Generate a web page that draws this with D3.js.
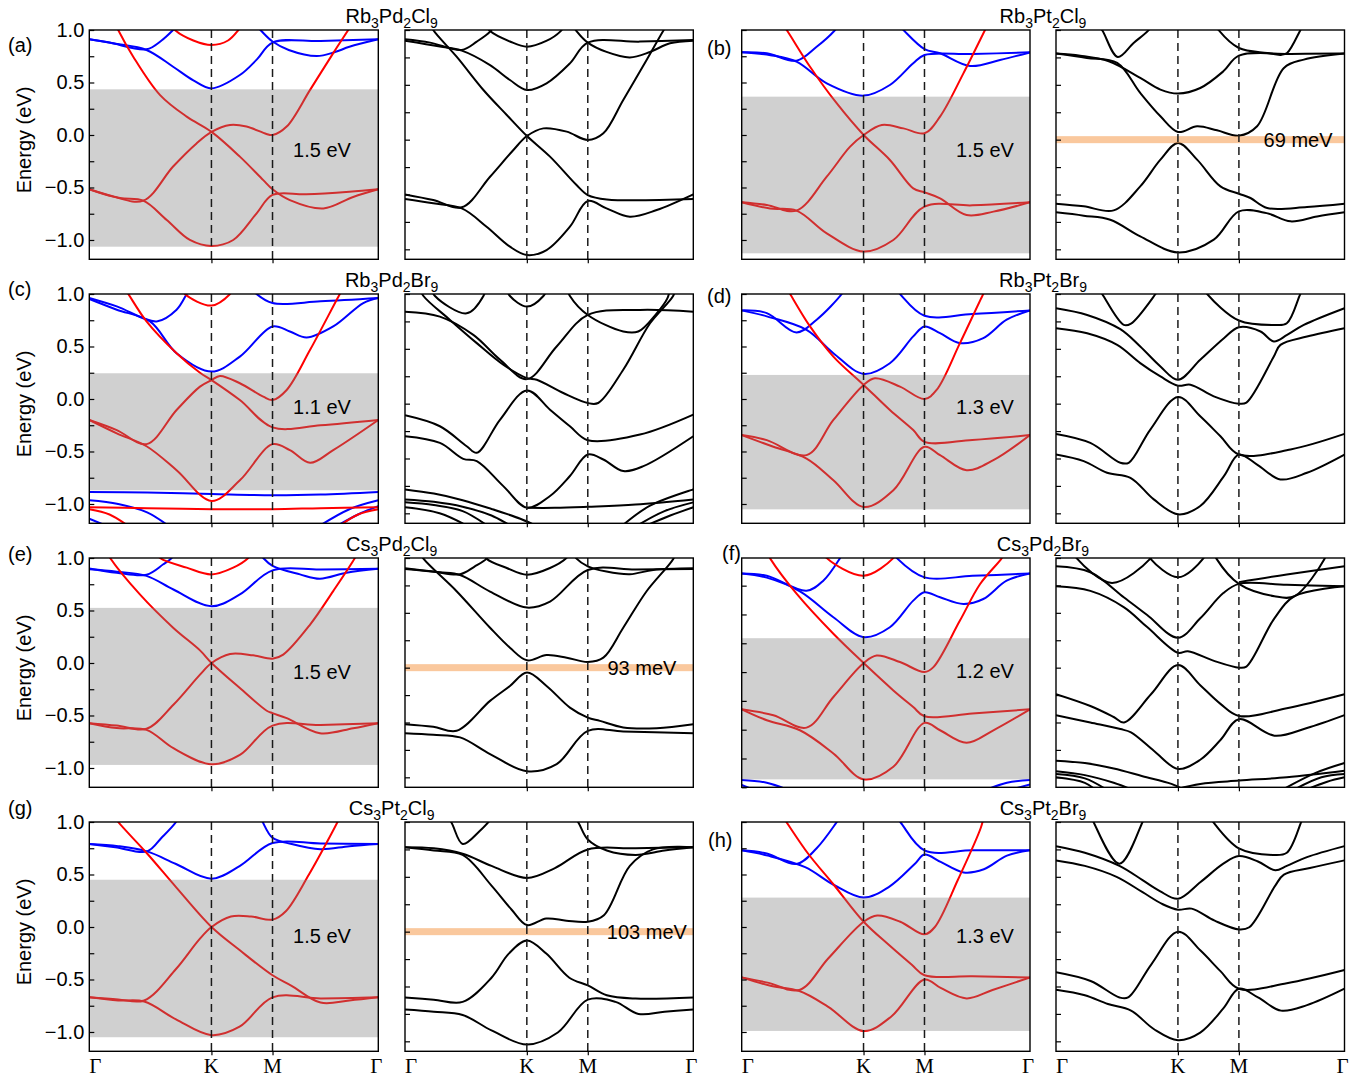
<!DOCTYPE html>
<html><head><meta charset="utf-8">
<script src="https://cdn.jsdelivr.net/npm/d3@7"></script>
<style>body{margin:0;background:#fff}svg{display:block}</style>
</head><body>
<svg id="fig" width="1370" height="1078"></svg>
<script>
// ---- path through the Brillouin zone: Γ–K–M–Γ (fractional distance) ----
const kNodes = [0, 0.4226, 0.634, 1];
const kLabels = ["Γ", "K", "M", "Γ"];
const energyTicks = [-1.0, -0.5, 0.0, 0.5, 1.0];

const compounds = ["Rb3Pd2Cl9", "Rb3Pt2Cl9", "Rb3Pd2Br9", "Rb3Pt2Br9",
                   "Cs3Pd2Cl9", "Cs3Pd2Br9", "Cs3Pt2Cl9", "Cs3Pt2Br9"];
const panelLetters = ["(a)", "(b)", "(c)", "(d)", "(e)", "(f)", "(g)", "(h)"];
// shaded energy window [bottom, top] (eV) and its width label
const gapWindows = [[-1.064, 0.435], [-1.127, 0.365], [-0.869, 0.245], [-1.051, 0.229],
                    [-0.971, 0.525], [-0.931, 0.294], [-1.05, 0.45], [-0.99, 0.28]];
const gapTexts = ["1.5 eV", "1.5 eV", "1.1 eV", "1.3 eV", "1.5 eV", "1.2 eV", "1.5 eV", "1.3 eV"];
// spin–orbit gap marked on the black band structures
const socGapTexts = ["", "69 meV", "", "", "93 meV", "", "103 meV", ""];
const socGapLevel = [0, 0, 0, 0, 0, 0, 0, 0];

// ---- bands: each band is a list of [k, E(eV)] ----
// Rb3Pd2Cl9
const rbPdCl_blue = [
  [[0,.911],[.07,.88],[.198,.816],[.25,.9],[.29,1.0],[.31,1.06]],
  [[0,.911],[.09,.87],[.198,.81],[.29,.65],[.36,.52],[.423,.444],[.521,.571],[.58,.72],[.634,.88],[.8,.895],[1,.911]],
  [[.57,1.06],[.592,1.0],[.634,.89],[.69,.81],[.787,.752],[.85,.79],[.9,.84],[1,.911]]
];
const rbPdCl_red = [
  [[.28,1.06],[.296,1.0],[.36,.9],[.423,.857],[.48,.9],[.516,1.0],[.53,1.06]],
  [[.09,1.06],[.1,1.0],[.152,.746],[.245,.38],[.337,.175],[.423,.03],[.521,-.206],[.602,-.43],[.634,-.517],[.694,-.62],[.81,-.70],[.913,-.59],[1,-.517]],
  [[0,-.517],[.083,-.587],[.187,-.625],[.29,-.30],[.371,-.08],[.423,.03],[.487,.095],[.544,.08],[.613,.01],[.634,0],[.683,.08],[.764,.43],[.844,.78],[.896,1.0],[.91,1.06]],
  [[0,-.517],[.106,-.60],[.187,-.625],[.268,-.81],[.348,-1.0],[.423,-1.057],[.498,-1.0],[.579,-.746],[.634,-.571],[.75,-.565],[.9,-.54],[1,-.517]]
];
const rbPdCl_soc = [
  [[0,.915],[.087,.885],[.197,.818],[.249,.894],[.295,.985],[.31,1.05]],
  [[0,.903],[.121,.85],[.197,.812],[.295,.68],[.364,.544],[.423,.453],[.491,.514],[.572,.696],[.634,.885],[.815,.894],[1,.909]],
  [[.58,1.05],[.595,.99],[.634,.885],[.699,.80],[.78,.75],[.85,.80],[.919,.879],[1,.903]],
  [[.28,1.05],[.295,.99],[.364,.895],[.423,.848],[.49,.90],[.54,.99],[.555,1.05]],
  [[.09,1.05],[.098,1.0],[.179,.757],[.272,.453],[.353,.225],[.423,.033],[.503,-.155],[.595,-.414],[.634,-.505],[.7,-.545],[1,-.541]],
  [[0,-.499],[.098,-.55],[.197,-.617],[.295,-.338],[.376,-.094],[.423,.033],[.48,.103],[.561,.073],[.634,-.003],[.688,.058],[.757,.362],[.838,.727],[.896,.994],[.91,1.05]],
  [[0,-.541],[.098,-.58],[.197,-.627],[.283,-.794],[.364,-.976],[.423,-1.052],[.491,-1.007],[.572,-.794],[.634,-.56],[.699,-.627],[.78,-.703],[.873,-.642],[1,-.499]]
];
// Rb3Pt2Cl9
const rbPtCl_blue = [
  [[0,.787],[.087,.778],[.19,.708],[.26,.84],[.324,1.0],[.34,1.06]],
  [[0,.787],[.1,.76],[.19,.698],[.295,.492],[.423,.375],[.514,.476],[.595,.683],[.634,.762],[.8,.771],[1,.787]],
  [[.54,1.06],[.561,1.0],[.634,.819],[.688,.778],[.792,.657],[.896,.714],[1,.787]]
];
const rbPtCl_red = [
  [[.14,1.06],[.156,1.0],[.237,.65],[.33,.30],[.423,0],[.514,-.238],[.595,-.508],[.634,-.546],[.688,-.603],[.78,-.762],[.873,-.73],[1,-.641]],
  [[0,-.641],[.087,-.667],[.19,-.72],[.295,-.397],[.376,-.111],[.423,0],[.486,.095],[.561,.063],[.634,.016],[.688,.175],[.769,.587],[.844,1.0],[.855,1.06]],
  [[0,-.641],[.098,-.70],[.19,-.72],[.295,-.937],[.423,-1.11],[.526,-1.0],[.634,-.683],[.8,-.67],[1,-.641]]
];
const rbPtCl_soc = [
  [[.14,1.06],[.16,.998],[.214,.754],[.269,.882],[.321,.998],[.335,1.06]],
  [[0,.785],[.084,.766],[.183,.715],[.292,.563],[.362,.456],[.423,.42],[.5,.471],[.58,.623],[.634,.766],[.813,.782],[1,.785]],
  [[0,.785],[.107,.745],[.212,.70],[.292,.426],[.362,.213],[.423,.07],[.489,.122],[.558,.085],[.634,.036],[.697,.122],[.79,.654],[.859,.73],[1,.785]],
  [[.55,1.06],[.564,.998],[.634,.836],[.732,.79],[.78,.773],[.801,.79],[.847,.998],[.86,1.06]],
  [[0,-.584],[.096,-.608],[.2,-.645],[.292,-.426],[.362,-.182],[.423,-.03],[.489,-.182],[.57,-.426],[.634,-.493],[.674,-.532],[.732,-.623],[.87,-.614],[1,-.584]],
  [[0,-.663],[.096,-.693],[.188,-.73],[.292,-.882],[.423,-1.028],[.547,-.912],[.634,-.654],[.73,-.67],[.813,-.745],[.905,-.70],[1,-.663]]
];
// Rb3Pd2Br9
const rbPdBr_blue = [
  [[0,.962],[.095,.882],[.233,.739],[.302,.85],[.337,1.0],[.35,1.06]],
  [[0,.952],[.095,.85],[.21,.739],[.302,.436],[.423,.261],[.521,.404],[.634,.691],[.694,.643],[.752,.586],[.844,.691],[.948,.914],[1,.962]],
  [[.56,1.06],[.579,1.0],[.634,.914],[.8,.93],[1,.962]],
  [[0,-.885],[.2,-.89],[.423,-.905],[.634,-.917],[.8,-.91],[1,-.885]],
  [[0,-.965],[.1,-1.0],[.2,-1.08],[.28,-1.22]],
  [[0,-1.14],[.07,-1.22]],
  [[.33,-1.25],[.423,-1.195],[.52,-1.25]],
  [[.79,-1.22],[.9,-1.05],[1,-.965]],
  [[.85,-1.22],[.93,-1.1],[1,-1.02]]
];
const rbPdBr_red = [
  [[.32,1.06],[.331,1.0],[.423,.89],[.487,1.0],[.5,1.06]],
  [[.12,1.06],[.135,1.0],[.198,.739],[.302,.436],[.383,.25],[.423,.18],[.521,-.01],[.634,-.27],[.8,-.25],[1,-.20]],
  [[0,-.20],[.095,-.296],[.198,-.43],[.302,-.105],[.383,.118],[.423,.18],[.452,.22],[.521,.15],[.602,.022],[.634,-.01],[.683,.086],[.764,.468],[.867,1.0],[.88,1.06]],
  [[0,-.20],[.095,-.327],[.198,-.45],[.302,-.678],[.423,-.971],[.521,-.774],[.634,-.43],[.694,-.487],[.764,-.608],[.844,-.487],[1,-.20]],
  [[0,-1.03],[.2,-1.04],[.423,-1.05],[.634,-1.05],[.8,-1.04],[1,-1.03]],
  [[0,-1.05],[.07,-1.1],[.14,-1.22]],
  [[.86,-1.22],[.93,-1.1],[1,-1.05]]
];
const rbPdBr_soc = [
  [[0,.839],[.121,.794],[.237,.627],[.33,.40],[.423,.224],[.526,.521],[.634,.809],[.815,.855],[1,.839]],
  [[.05,1.06],[.064,.982],[.156,.764],[.249,.552],[.341,.355],[.423,.233],[.457,.218],[.549,.097],[.634,.006],[.67,.006],[.757,.309],[.85,.733],[.93,.982],[.94,1.06]],
  [[.09,1.06],[.104,.982],[.214,.824],[.272,.982],[.28,1.06]],
  [[.35,1.06],[.364,.982],[.423,.885],[.48,.982],[.495,1.06]],
  [[.56,1.06],[.572,.982],[.634,.809],[.757,.658],[.809,.658],[.873,.824],[.91,.96],[.92,1.06]],
  [[0,-.106],[.121,-.206],[.214,-.388],[.249,-.448],[.33,-.145],[.423,.121],[.503,-.055],[.572,-.206],[.634,-.333],[.815,-.282],[1,-.10]],
  [[0,-.297],[.121,-.358],[.202,-.503],[.249,-.524],[.341,-.752],[.423,-.948],[.503,-.842],[.572,-.66],[.634,-.464],[.688,-.509],[.757,-.615],[.827,-.57],[1,-.297]],
  [[0,-.782],[.1,-.82],[.2,-.88],[.3,-.96],[.4,-1.05],[.46,-1.12]],
  [[0,-.873],[.1,-.895],[.2,-.94],[.3,-1.02],[.37,-1.12]],
  [[0,-.90],[.1,-.925],[.2,-.98],[.29,-1.12]],
  [[0,-.945],[.12,-1.0],[.22,-1.12]],
  [[.423,-.95],[.52,-.95],[.634,-.94],[.8,-.92],[1,-.873]],
  [[.75,-1.12],[.85,-.93],[1,-.782]],
  [[.8,-1.12],[.9,-.98],[1,-.90]],
  [[.83,-1.12],[.92,-1.02],[1,-.945]]
];
// Rb3Pt2Br9
const rbPtBr_blue = [
  [[0,.844],[.087,.818],[.19,.634],[.26,.755],[.347,1.0],[.36,1.06]],
  [[0,.844],[.087,.787],[.225,.659],[.318,.436],[.423,.239],[.514,.341],[.595,.596],[.634,.691],[.688,.627],[.757,.532],[.838,.58],[.919,.755],[1,.844]],
  [[.53,1.06],[.549,1.0],[.634,.793],[.8,.81],[1,.844]]
];
const rbPtBr_red = [
  [[.155,1.06],[.168,1.0],[.237,.691],[.318,.404],[.423,.134],[.514,-.105],[.595,-.296],[.634,-.408],[.8,-.39],[1,-.344]],
  [[0,-.344],[.087,-.392],[.225,-.535],[.318,-.2],[.423,.134],[.462,.197],[.549,.118],[.634,0],[.676,.086],[.757,.532],[.838,1.0],[.85,1.06]],
  [[0,-.344],[.11,-.455],[.225,-.567],[.318,-.774],[.423,-1.029],[.526,-.869],[.634,-.455],[.688,-.535],[.78,-.678],[.873,-.583],[1,-.344]]
];
const rbPtBr_soc = [
  [[.145,1.06],[.16,1.0],[.235,.718],[.26,.73],[.345,1.0],[.36,1.06]],
  [[0,.87],[.108,.809],[.223,.679],[.292,.521],[.362,.339],[.423,.218],[.5,.40],[.582,.597],[.634,.697],[.709,.658],[.755,.567],[.801,.627],[.859,.718],[1,.87]],
  [[0,.688],[.108,.642],[.212,.536],[.292,.37],[.362,.248],[.423,.164],[.466,.173],[.547,.067],[.634,0],[.66,.01],[.755,.43],[.778,.536],[.87,.612],[1,.688]],
  [[.51,1.06],[.524,1.0],[.634,.758],[.755,.718],[.8,.733],[.847,1.0],[.86,1.06]],
  [[0,-.276],[.119,-.358],[.223,-.539],[.252,-.539],[.327,-.236],[.423,.061],[.5,-.115],[.57,-.297],[.634,-.464],[.813,-.418],[1,-.276]],
  [[0,-.464],[.096,-.524],[.177,-.63],[.258,-.676],[.339,-.873],[.423,-1.009],[.5,-.933],[.582,-.661],[.634,-.464],[.697,-.555],[.778,-.691],[.87,-.63],[1,-.464]]
];
// Cs3Pd2Cl9
const csPdCl_blue = [
  [[0,.901],[.095,.86],[.198,.841],[.256,.94],[.285,1.0],[.3,1.06]],
  [[0,.892],[.095,.87],[.198,.83],[.291,.70],[.423,.541],[.521,.653],[.634,.882],[.8,.89],[1,.898]],
  [[.585,1.06],[.602,1.0],[.634,.924],[.729,.844],[.798,.803],[.89,.86],[1,.898]]
];
const csPdCl_red = [
  [[.23,1.06],[.245,1.0],[.337,.908],[.423,.844],[.498,.908],[.55,1.0],[.565,1.06]],
  [[.06,1.06],[.072,1.0],[.175,.653],[.291,.334],[.383,.12],[.423,0],[.521,-.239],[.614,-.455],[.634,-.478],[.683,-.525],[.798,-.669],[.913,-.621],[1,-.573]],
  [[0,-.573],[.095,-.596],[.198,-.627],[.291,-.398],[.383,-.111],[.423,0],[.487,.086],[.567,.073],[.634,.041],[.671,.08],[.764,.366],[.844,.685],[.919,1.0],[.93,1.06]],
  [[0,-.573],[.095,-.62],[.198,-.637],[.291,-.812],[.423,-.965],[.521,-.876],[.634,-.596],[.8,-.59],[1,-.573]]
];
const csPdCl_soc = [
  [[0,.906],[.098,.876],[.191,.852],[.24,.92],[.283,.994],[.295,1.06]],
  [[0,.90],[.121,.87],[.191,.845],[.295,.694],[.423,.548],[.503,.603],[.634,.891],[.8,.896],[1,.90]],
  [[.58,1.06],[.595,.994],[.634,.924],[.699,.876],[.78,.852],[.861,.891],[1,.906]],
  [[.27,1.06],[.283,.994],[.353,.909],[.423,.848],[.503,.909],[.56,1.0],[.575,1.06]],
  [[.05,1.06],[.064,.994],[.179,.697],[.295,.364],[.364,.182],[.423,.067],[.491,.115],[.561,.091],[.634,.052],[.688,.091],[.757,.364],[.838,.697],[.931,.994],[.94,1.06]],
  [[0,-.515],[.098,-.539],[.179,-.576],[.295,-.303],[.364,-.167],[.423,-.045],[.491,-.167],[.572,-.364],[.634,-.455],[.676,-.485],[.757,-.545],[.873,-.552],[1,-.515]],
  [[0,-.597],[.098,-.612],[.191,-.636],[.295,-.788],[.423,-.945],[.526,-.879],[.634,-.576],[.757,-.582],[1,-.597]]
];
// Cs3Pd2Br9
const csPdBr_blue = [
  [[0,.856],[.087,.836],[.225,.706],[.283,.793],[.341,.989],[.355,1.05]],
  [[0,.856],[.087,.82],[.202,.70],[.318,.476],[.423,.303],[.514,.389],[.595,.62],[.634,.692],[.688,.649],[.769,.591],[.838,.634],[.919,.793],[1,.856]],
  [[.52,1.05],[.538,.989],[.634,.822],[.8,.835],[1,.856]],
  [[0,-.937],[.087,-.96],[.168,-1.03]],
  [[0,-.98],[.05,-1.03]],
  [[.84,-1.03],[.92,-.96],[1,-.937]],
  [[.92,-1.03],[1,-.975]]
];
const csPdBr_red = [
  [[.28,1.05],[.295,.989],[.423,.836],[.526,.989],[.54,1.05]],
  [[.085,1.05],[.098,.989],[.191,.678],[.318,.332],[.423,.078],[.526,-.159],[.595,-.303],[.634,-.384],[.8,-.36],[1,-.323]],
  [[0,-.323],[.11,-.375],[.225,-.482],[.318,-.216],[.423,.078],[.468,.144],[.549,.087],[.634,0],[.665,.043],[.757,.447],[.827,.764],[.902,.989],[.915,1.05]],
  [[0,-.323],[.087,-.418],[.202,-.505],[.318,-.706],[.423,-.931],[.526,-.822],[.634,-.441],[.688,-.505],[.78,-.614],[.873,-.505],[1,-.323]]
];
const csPdBr_soc = [
  [[.06,1.06],[.073,.994],[.194,.773],[.327,.994],[.34,1.06]],
  [[0,.924],[.119,.87],[.236,.64],[.316,.48],[.423,.273],[.5,.45],[.58,.68],[.634,.764],[.8,.755],[1,.742]],
  [[0,.742],[.119,.70],[.236,.55],[.316,.37],[.423,.136],[.457,.15],[.55,.06],[.634,0],[.66,.01],[.757,.45],[.827,.652],[1,.742]],
  [[.315,1.06],[.327,.994],[.423,.824],[.51,.994],[.52,1.06]],
  [[.545,1.06],[.556,.994],[.634,.764],[.757,.652],[.827,.652],[.931,.994],[.94,1.06]],
  [[.634,.78],[.8,.85],[1,.924]],
  [[0,-.242],[.119,-.35],[.2,-.45],[.236,-.5],[.33,-.24],[.423,.024],[.5,-.16],[.57,-.33],[.634,-.44],[.8,-.37],[1,-.242]],
  [[0,-.433],[.119,-.50],[.223,-.56],[.26,-.59],[.34,-.76],[.423,-.924],[.5,-.84],[.57,-.66],[.634,-.47],[.757,-.62],[.87,-.55],[1,-.433]],
  [[0,-.848],[.1,-.87],[.2,-.92],[.3,-.99],[.4,-1.06],[.45,-1.12]],
  [[0,-.945],[.1,-.98],[.2,-1.05],[.27,-1.12]],
  [[0,-.97],[.1,-1.01],[.18,-1.12]],
  [[0,-1.0],[.1,-1.05],[.14,-1.12]],
  [[.4,-1.12],[.5,-1.06],[.634,-1.03],[.8,-1.0],[1,-.94]],
  [[.78,-1.12],[.9,-.96],[1,-.87]],
  [[.82,-1.12],[.92,-1.0],[1,-.97]],
  [[.86,-1.12],[.94,-1.04],[1,-1.0]]
];
// Cs3Pt2Cl9
const csPtCl_blue = [
  [[0,.79],[.09,.76],[.2,.72],[.25,.85],[.3,1.0],[.31,1.06]],
  [[0,.79],[.1,.77],[.2,.72],[.3,.60],[.423,.46],[.52,.58],[.634,.80],[.8,.795],[1,.79]],
  [[.59,1.06],[.6,1.0],[.634,.85],[.7,.79],[.8,.74],[.9,.77],[1,.79]]
];
const csPtCl_red = [
  [[.085,1.06],[.1,1.0],[.2,.70],[.3,.38],[.423,0],[.52,-.22],[.634,-.46],[.7,-.56],[.8,-.72],[.9,-.70],[1,-.67]],
  [[0,-.67],[.1,-.69],[.19,-.70],[.3,-.40],[.38,-.12],[.423,0],[.49,.10],[.56,.10],[.634,.07],[.68,.15],[.76,.50],[.84,.9],[.87,1.06]],
  [[0,-.67],[.1,-.70],[.19,-.71],[.3,-.88],[.423,-1.03],[.52,-.95],[.634,-.67],[.8,-.68],[1,-.67]]
];
const csPtCl_soc = [
  [[.14,1.06],[.16,1.0],[.2,.80],[.26,.92],[.31,1.06]],
  [[0,.77],[.1,.76],[.2,.71],[.3,.60],[.423,.49],[.52,.58],[.634,.75],[.8,.76],[1,.77]],
  [[.58,1.06],[.6,1.0],[.634,.84],[.7,.74],[.8,.70],[.9,.74],[1,.77]],
  [[0,.77],[.1,.74],[.2,.70],[.3,.42],[.37,.2],[.423,.06],[.49,.12],[.56,.10],[.634,.09],[.69,.15],[.78,.6],[.86,.75],[1,.77]],
  [[0,-.60],[.1,-.62],[.2,-.64],[.3,-.42],[.36,-.2],[.423,-.08],[.49,-.2],[.57,-.42],[.634,-.49],[.7,-.58],[.8,-.61],[1,-.60]],
  [[0,-.71],[.1,-.73],[.2,-.76],[.3,-.90],[.423,-1.03],[.53,-.92],[.634,-.62],[.73,-.64],[.81,-.75],[.9,-.73],[1,-.71]]
];
// Cs3Pt2Br9
const csPtBr_blue = [
  [[0,.73],[.087,.70],[.19,.60],[.26,.75],[.33,1.0],[.345,1.06]],
  [[0,.73],[.09,.68],[.22,.57],[.32,.40],[.423,.28],[.51,.38],[.6,.60],[.634,.69],[.69,.62],[.77,.52],[.84,.55],[.92,.68],[1,.73]],
  [[.53,1.06],[.55,1.0],[.634,.73],[.8,.73],[1,.73]]
];
const csPtBr_red = [
  [[.14,1.06],[.155,1.0],[.23,.70],[.32,.40],[.423,.05],[.51,-.17],[.59,-.36],[.634,-.46],[.8,-.47],[1,-.48]],
  [[0,-.48],[.09,-.53],[.2,-.60],[.3,-.30],[.423,.05],[.47,.11],[.55,.05],[.634,-.07],[.67,0],[.75,.45],[.83,.95],[.84,1.06]],
  [[0,-.48],[.1,-.56],[.2,-.61],[.3,-.76],[.423,-.99],[.52,-.85],[.634,-.50],[.69,-.58],[.78,-.68],[.87,-.60],[1,-.48]]
];
const csPtBr_soc = [
  [[.12,1.06],[.13,1.0],[.22,.62],[.3,1.0],[.31,1.06]],
  [[0,.78],[.1,.72],[.22,.60],[.3,.47],[.36,.37],[.423,.30],[.5,.45],[.58,.62],[.634,.69],[.7,.64],[.76,.56],[.8,.6],[.87,.68],[1,.78]],
  [[0,.65],[.1,.60],[.21,.50],[.3,.36],[.37,.25],[.423,.20],[.47,.21],[.55,.10],[.634,.02],[.67,.04],[.76,.42],[.79,.52],[.88,.58],[1,.65]],
  [[.53,1.06],[.545,1.0],[.634,.76],[.75,.70],[.8,.72],[.85,1.0],[.86,1.06]],
  [[0,-.37],[.12,-.45],[.22,-.60],[.25,-.60],[.33,-.30],[.423,0],[.5,-.17],[.57,-.36],[.634,-.52],[.8,-.47],[1,-.35]],
  [[0,-.53],[.1,-.58],[.18,-.66],[.26,-.72],[.34,-.89],[.423,-.99],[.5,-.92],[.58,-.70],[.634,-.52],[.7,-.60],[.78,-.72],[.87,-.67],[1,-.52]]
];

const blueBands = [rbPdCl_blue, rbPtCl_blue, rbPdBr_blue, rbPtBr_blue, csPdCl_blue, csPdBr_blue, csPtCl_blue, csPtBr_blue];
const redBands  = [rbPdCl_red, rbPtCl_red, rbPdBr_red, rbPtBr_red, csPdCl_red, csPdBr_red, csPtCl_red, csPtBr_red];
const socBands  = [rbPdCl_soc, rbPtCl_soc, rbPdBr_soc, rbPtBr_soc, csPdCl_soc, csPdBr_soc, csPtCl_soc, csPtBr_soc];

// ---- layout ----
const W = 1370, H = 1078;
const colFrames = [[[89.3, 378.3], [405, 693.3]], [[741.7, 1030], [1056, 1344.5]]];
const rowTop = 30, rowBottom = 259.3, rowStep = 264;
const colorDomain = [-1.184, 1.0], colorDomainAlt = [-1.0, 0.99], socDomain = [-1.091, 1.0];
const gapLabelAt = [[.805,-.14],[.844,-.143],[.805,-.08],[.844,-.08],[.805,-.086],[.844,.005],[.805,-.09],[.844,-.09]];
const socLabelK = [0, .839, 0, 0, .822, 0, .839, 0];
const letterPos = [[8,52],[707,55],[8,296],[707,303],[8,561],[722,560],[8,815],[708,847]];
const SANS = "'Liberation Sans', Arial, Helvetica, sans-serif";
const SERIF = "'Liberation Serif', 'Times New Roman', serif";

const svg = d3.select("#fig");
const defs = svg.append("defs");
let clipId = 0;

function formula(sel, str) {
  // chemical formula with subscripted digits
  const parts = str.match(/\d+|\D+/g);
  let sub = false;
  parts.forEach(p => {
    const isNum = /\d/.test(p);
    const t = sel.append("tspan").text(p);
    if (isNum) { t.attr("font-size", 14).attr("dy", 5); sub = true; }
    else if (sub) { t.attr("dy", -5); sub = false; }
  });
}

function drawPanel(opts) {
  const {x, y, bands, overlay, labelRow} = opts;
  const g = svg.append("g");
  const [x0, x1] = x.range(), [y1, y0] = y.range();
  const id = "clip" + (clipId++);
  defs.append("clipPath").attr("id", id).append("rect")
    .attr("x", x0).attr("y", y0).attr("width", x1 - x0).attr("height", y1 - y0);
  const plot = g.append("g").attr("clip-path", `url(#${id})`);
  const line = d3.line().x(d => x(d[0])).y(d => y(d[1])).curve(d3.curveCatmullRom.alpha(0.5));

  bands.forEach(set => {
    plot.append("g").selectAll("path").data(set.data).join("path")
      .attr("d", line).attr("fill", "none").attr("stroke", set.color)
      .attr("stroke-width", 2).attr("stroke-linejoin", "round");
  });
  if (overlay) overlay(plot, x, y);

  // K and M guide lines
  plot.selectAll("line.kv").data(kNodes.slice(1, 3)).join("line")
    .attr("x1", d => x(d)).attr("x2", d => x(d)).attr("y1", y0).attr("y2", y1)
    .attr("stroke", "#1a1a1a").attr("stroke-width", 1.5).attr("stroke-dasharray", "8,5");

  // energy axis: inward ticks every 0.25 eV
  const dom = y.domain();
  const tv = d3.range(-1.0, 1.001, 0.25).filter(v => v >= dom[0] - 1e-6 && v <= dom[1] + 1e-6);
  const ax = d3.axisLeft(y).tickValues(tv).tickSizeInner(-5).tickSizeOuter(0).tickPadding(5)
    .tickFormat(v => (opts.labels && Math.abs(Math.round(v * 2) - v * 2) < 1e-6) ? d3.format(".1f")(v) : "");
  const axG = g.append("g").attr("transform", `translate(${x0},0)`).call(ax);
  axG.select(".domain").remove();
  axG.selectAll("line").attr("stroke", "#000").attr("stroke-width", 1.2);
  axG.selectAll("text").attr("font-family", SANS).attr("font-size", 20).attr("fill", "#000");

  // k axis: outward ticks at K and M
  const bx = d3.axisBottom(x).tickValues(kNodes.slice(1, 3)).tickSizeInner(4).tickSizeOuter(0).tickFormat("");
  const bxG = g.append("g").attr("transform", `translate(0,${y1})`).call(bx);
  bxG.select(".domain").remove();
  bxG.selectAll("line").attr("stroke", "#000").attr("stroke-width", 1.2);

  g.append("rect").attr("x", x0).attr("y", y0).attr("width", x1 - x0).attr("height", y1 - y0)
    .attr("fill", "none").attr("stroke", "#000").attr("stroke-width", 1.4);

  if (labelRow) {
    g.selectAll("text.kl").data(kNodes).join("text")
      .attr("x", (d, i) => x(d) + (i === 0 ? 6 : i === 3 ? -2 : 0))
      .attr("y", y1 + 22).attr("text-anchor", "middle")
      .attr("font-family", SERIF).attr("font-size", 21).attr("fill", "#000")
      .text((d, i) => kLabels[i]);
  }
  return g;
}

compounds.forEach((name, i) => {
  const r = Math.floor(i / 2), c = i % 2;
  const top = rowTop + r * rowStep, bottom = rowBottom + r * rowStep;
  const [cRange, sRange] = colFrames[c];
  const last = r === 3;

  // spin-polarized bands (red / blue) with the shaded window
  const xC = d3.scaleLinear().domain([0, 1]).range(cRange);
  const yC = d3.scaleLinear().domain(i === 5 ? colorDomainAlt : colorDomain).range([bottom, top]);
  drawPanel({
    x: xC, y: yC, labels: c === 0, labelRow: last,
    bands: [{data: blueBands[i], color: "#0000ff"}, {data: redBands[i], color: "#ff0000"}],
    overlay: (plot, x, y) => {
      const [lo, hi] = gapWindows[i];
      plot.append("rect").attr("x", x(0)).attr("width", x(1) - x(0))
        .attr("y", y(hi)).attr("height", y(lo) - y(hi))
        .attr("fill", "#808080").attr("fill-opacity", 0.37);
      plot.append("text").attr("x", x(gapLabelAt[i][0])).attr("y", y(gapLabelAt[i][1]))
        .attr("text-anchor", "middle").attr("dominant-baseline", "central")
        .attr("font-family", SANS).attr("font-size", 20).attr("fill", "#000").text(gapTexts[i]);
    }
  });

  // bands with spin–orbit coupling (black)
  const xS = d3.scaleLinear().domain([0, 1]).range(sRange);
  const yS = d3.scaleLinear().domain(socDomain).range([bottom, top]);
  drawPanel({
    x: xS, y: yS, labels: false, labelRow: last,
    bands: [{data: socBands[i], color: "#000"}],
    overlay: (plot, x, y) => {
      if (!socGapTexts[i]) return;
      plot.append("rect").attr("x", x(0)).attr("width", x(1) - x(0))
        .attr("y", y(socGapLevel[i]) - 3.5).attr("height", 7)
        .attr("fill", "#f7a35c").attr("fill-opacity", 0.6);
      plot.append("text").attr("x", x(socLabelK[i])).attr("y", y(socGapLevel[i]))
        .attr("text-anchor", "middle").attr("dominant-baseline", "central")
        .attr("font-family", SANS).attr("font-size", 20).attr("fill", "#000").text(socGapTexts[i]);
    }
  });

  // compound name centred over the pair
  const title = svg.append("text").attr("x", (cRange[1] + sRange[0]) / 2).attr("y", 23 + r * rowStep)
    .attr("text-anchor", "middle").attr("font-family", SANS).attr("font-size", 20).attr("fill", "#000");
  formula(title, name);

  svg.append("text").attr("x", letterPos[i][0]).attr("y", letterPos[i][1])
    .attr("font-family", SANS).attr("font-size", 20).attr("fill", "#000").text(panelLetters[i]);

  if (c === 0) {
    const zy = yC(0) + 5;
    svg.append("text").attr("transform", `translate(31,${zy}) rotate(-90)`)
      .attr("text-anchor", "middle").attr("font-family", SANS).attr("font-size", 20).attr("fill", "#000")
      .text("Energy (eV)");
  }
});
</script>
</body></html>
